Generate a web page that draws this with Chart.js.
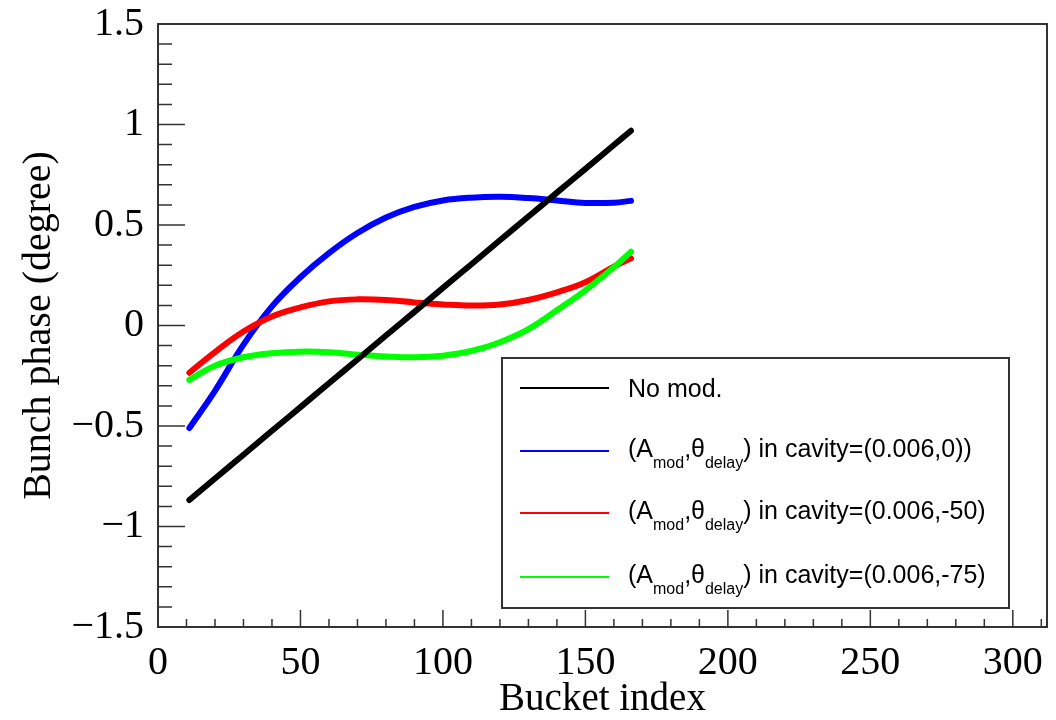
<!DOCTYPE html>
<html>
<head>
<meta charset="utf-8">
<title>Bunch phase vs bucket index</title>
<script src="https://cdn.jsdelivr.net/npm/chart.js@4.4.0/dist/chart.umd.min.js"></script>
<style>
  html, body { margin: 0; padding: 0; background: #fff; }
  #wrap { width: 1056px; height: 720px; }
</style>
</head>
<body>
<div id="wrap"><canvas id="phaseChart" width="1056" height="720"></canvas></div>
<script>
// data
var buckets = [11, 20, 30, 40, 50, 60, 70, 80, 90, 100, 110, 120, 130, 140, 150, 160, 166];

var noMod    = [-0.868, -0.761, -0.643, -0.524, -0.406, -0.287, -0.169, -0.050, 0.068, 0.187, 0.305, 0.424, 0.542, 0.661, 0.779, 0.898, 0.969];
var delay0   = [-0.51, -0.325, -0.095, 0.095, 0.24, 0.36, 0.46, 0.537, 0.59, 0.622, 0.636, 0.64, 0.634, 0.622, 0.61, 0.611, 0.62];
var delay50  = [-0.235, -0.132, -0.03, 0.045, 0.09, 0.12, 0.13, 0.127, 0.115, 0.105, 0.099, 0.104, 0.127, 0.165, 0.215, 0.293, 0.334];
var delay75  = [-0.27, -0.20, -0.158, -0.138, -0.130, -0.133, -0.145, -0.154, -0.158, -0.15, -0.127, -0.083, -0.018, 0.076, 0.175, 0.29, 0.367];

var seriesNames = ["No mod.", "(0.006,0))", "(0.006,-50)", "(0.006,-75)"];
var seriesColors = ["#000000", "#0000ff", "#ff0000", "#00ff00"];

var xMin = 0, xMax = 312;
var yMin = -1.5, yMax = 1.5;

var serif = "'Liberation Serif', 'Times New Roman', serif";
var sans = "'Liberation Sans', Arial, sans-serif";

function toPoints(values) {
    return buckets.map(function (b, i) { return { x: b, y: values[i] }; });
}

function makeSet(idx, values, order) {
    return {
        label: seriesNames[idx],
        data: toPoints(values),
        borderColor: seriesColors[idx],
        backgroundColor: seriesColors[idx],
        borderWidth: 6,
        borderCapStyle: "round",
        borderJoinStyle: "round",
        pointRadius: 0,
        tension: 0.4,
        fill: false,
        order: order
    };
}

// frame + inward ticks, ROOT style
var frameTicks = {
    id: "frameTicks",
    afterDatasetsDraw: function (chart) {
        var ctx = chart.ctx, a = chart.chartArea;
        var xs = chart.scales.x, ys = chart.scales.y;
        ctx.save();
        ctx.strokeStyle = "#333";
        ctx.lineWidth = 2;
        ctx.strokeRect(a.left, a.top, a.right - a.left, a.bottom - a.top);
        ctx.lineWidth = 1.5;
        ctx.beginPath();
        for (var v = 0; v <= xMax; v += 10) {
            var px = xs.getPixelForValue(v);
            var lx = (v % 50 === 0) ? 17 : 8;
            ctx.moveTo(px, a.bottom);
            ctx.lineTo(px, a.bottom - lx);
        }
        for (var i = -15; i <= 15; i++) {
            var py = ys.getPixelForValue(i / 10);
            var ly = (i % 5 === 0) ? 27 : 14;
            ctx.moveTo(a.left, py);
            ctx.lineTo(a.left + ly, py);
        }
        ctx.stroke();
        ctx.restore();
    }
};

// legend box with subscripts
var subLegend = {
    id: "subLegend",
    afterDraw: function (chart) {
        var ctx = chart.ctx;
        var box = { x: 502, y: 358, w: 507, h: 250 };
        var rows = [388, 451, 513, 577];
        ctx.save();
        ctx.fillStyle = "#fff";
        ctx.fillRect(box.x, box.y, box.w, box.h);
        ctx.strokeStyle = "#333";
        ctx.lineWidth = 2;
        ctx.strokeRect(box.x, box.y, box.w, box.h);

        ctx.textBaseline = "alphabetic";
        ctx.textAlign = "left";
        var big = "25px " + sans, small = "16px " + sans;

        for (var i = 0; i < rows.length; i++) {
            var y = rows[i];
            ctx.strokeStyle = seriesColors[i];
            ctx.lineWidth = 2;
            ctx.beginPath();
            ctx.moveTo(520, y);
            ctx.lineTo(609, y);
            ctx.stroke();

            ctx.fillStyle = "#000";
            var x = 628;
            if (i === 0) {
                ctx.font = big;
                ctx.fillText(seriesNames[0], x, y + 9);
                continue;
            }
            var base = y + 6;
            var parts = [
                ["(A", big, 0], ["mod", small, 11], [",", big, 0], ["\u03b8", big, 0],
                ["delay", small, 11], [")", big, 0], [" in cavity=" + seriesNames[i], big, 0]
            ];
            parts.forEach(function (p) {
                ctx.font = p[1];
                ctx.fillText(p[0], x, base + p[2]);
                x += ctx.measureText(p[0]).width;
            });
        }
        ctx.restore();
    }
};

var chart = new Chart(document.getElementById("phaseChart"), {
    type: "line",
    data: {
        datasets: [
            makeSet(0, noMod, 0),
            makeSet(1, delay0, 3),
            makeSet(2, delay50, 2),
            makeSet(3, delay75, 1)
        ]
    },
    options: {
        responsive: false,
        animation: false,
        layout: { padding: { top: 24, right: 9, left: 0, bottom: 0 } },
        plugins: {
            legend: { display: false },
            tooltip: { enabled: false }
        },
        scales: {
            x: {
                type: "linear",
                min: xMin,
                max: xMax,
                grid: { display: false },
                border: { display: false },
                ticks: {
                    stepSize: 50,
                    includeBounds: false,
                    autoSkip: false,
                    maxRotation: 0,
                    padding: 4,
                    color: "#000",
                    font: { family: serif, size: 40 }
                },
                title: {
                    display: true,
                    text: "Bucket index",
                    color: "#000",
                    font: { family: serif, size: 39, lineHeight: 1 },
                    padding: { top: 0, bottom: 1 }
                },
                afterFit: function (s) { s.height = 93; }
            },
            y: {
                type: "linear",
                min: yMin,
                max: yMax,
                grid: { display: false },
                border: { display: false },
                ticks: {
                    stepSize: 0.5,
                    padding: 6,
                    color: "#000",
                    font: { family: serif, size: 40, lineHeight: 0.8 },
                    callback: function (v) {
                        var r = Math.round(v * 10) / 10;
                        return r < 0 ? "\u2212" + Math.abs(r) : String(r);
                    }
                },
                title: {
                    display: true,
                    text: "Bunch phase (degree)",
                    color: "#000",
                    font: { family: serif, size: 40, lineHeight: 1 },
                    padding: { top: 19, bottom: 0 }
                },
                afterFit: function (s) { s.width = 158; }
            }
        }
    },
    plugins: [frameTicks, subLegend]
});
</script>
</body>
</html>
